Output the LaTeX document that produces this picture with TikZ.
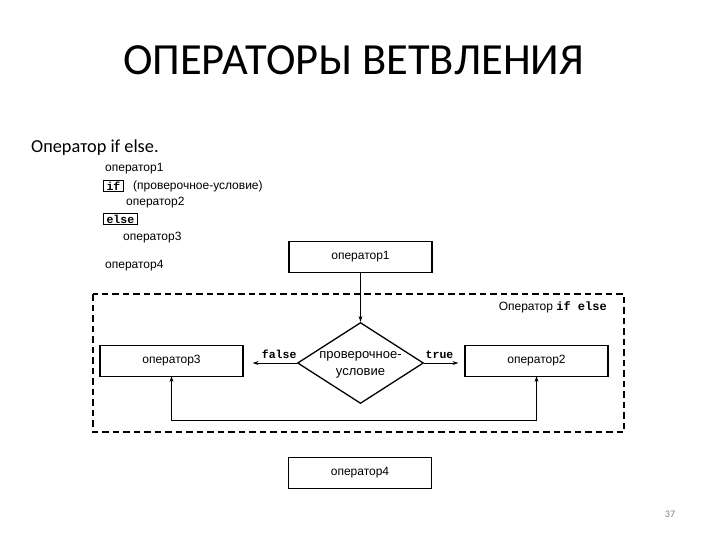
\documentclass[tikz,border=0pt]{standalone}
\usepackage{fontspec}
\setmainfont{Liberation Sans}
\newfontfamily\titlefont{Carlito}
\setmonofont{Liberation Mono}
\usetikzlibrary{shapes.geometric,arrows.meta}
\begin{document}
\begin{tikzpicture}[x=1pt,y=-1pt,
  box/.style={draw,line width=1.3pt,minimum width=143pt,minimum height=31pt,inner sep=0pt,font=\fontsize{12}{14}\selectfont},
  codetxt/.style={anchor=west,inner sep=0pt,font=\fontsize{12}{14}\selectfont},
  kw/.style={draw,line width=1.1pt,anchor=west,inner xsep=3pt,inner ysep=1.5pt,font=\fontsize{11.5}{12}\ttfamily\bfseries},
  arr/.style={-{Stealth[length=6pt,width=4pt]},line width=0.8pt},
  lbl/.style={font=\fontsize{11.5}{12}\ttfamily\bfseries,inner sep=1pt}]
\useasboundingbox (0,0) rectangle (720,540);
% title
\node[font=\titlefont\fontsize{44.5}{48}\selectfont] (title) at (353.5,60) {ОПЕРАТОРЫ ВЕТВЛЕНИЯ};
\node[anchor=west,inner sep=0pt,font=\titlefont\fontsize{18.3}{20}\selectfont] (sub) at (31,148) {Оператор if else.};
% code listing
\node[codetxt] (c1) at (105,169) {оператор1};
\node[kw] (kif) at (103,186) {if};
\node[codetxt] (c2) at (133,186) {(проверочное-условие)};
\node[codetxt] (c3) at (126,203) {оператор2};
\node[kw] (kelse) at (103,219) {else};
\node[codetxt] (c4) at (123,238) {оператор3};
\node[codetxt] (c5) at (105,266) {оператор4};
% dashed frame
\draw[dash pattern=on 6.5pt off 4pt,line width=1.3pt] (93,294) rectangle (624,432);
\node[anchor=east,inner sep=0pt,font=\fontsize{12}{14}\selectfont] (frlbl) at (607,307) {Оператор \texttt{\bfseries if else}};
% nodes
\node[draw,diamond,aspect=1.55,line width=1.3pt,minimum width=126pt,minimum height=81pt,inner sep=0pt] (cond) at (360.5,363) {};
\node[align=center,inner sep=0pt,font=\fontsize{13}{17.5}\selectfont] (condtxt) at ([yshift=-2pt]cond.center) {проверочное-\\условие};
\node[box] (op1) at (360.5,257) {оператор1};
\node[box] (op3) at (171.5,361) {оператор3};
\node[box] (op2) at (536.5,361) {оператор2};
\node[box] (op4) at (360,473) {оператор4};
% connectors
\draw[arr] (op1.south) -- (op1.south |- cond.north);
\draw[arr] (cond.west) -- node[lbl,above=3pt,pos=0.4] {false} ([xshift=9pt]op3.east |- cond.west);
\draw[arr] (cond.east) -- node[lbl,above=3pt,pos=0.45] {true} ([xshift=-6pt]op2.west |- cond.east);
\coordinate (bl) at (171.5,420);
\coordinate (br) at (536.5,420);
\draw[{Stealth[length=6pt,width=4pt]}-{Stealth[length=6pt,width=4pt]},line width=0.8pt] ([yshift=1pt]op3.south) -- (bl) -- (br) -- ([yshift=1pt]op2.south);
% page number
\node[text=gray,font=\titlefont\fontsize{10}{12}\selectfont] (pg) at (670,514) {37};
\end{tikzpicture}
\end{document}
